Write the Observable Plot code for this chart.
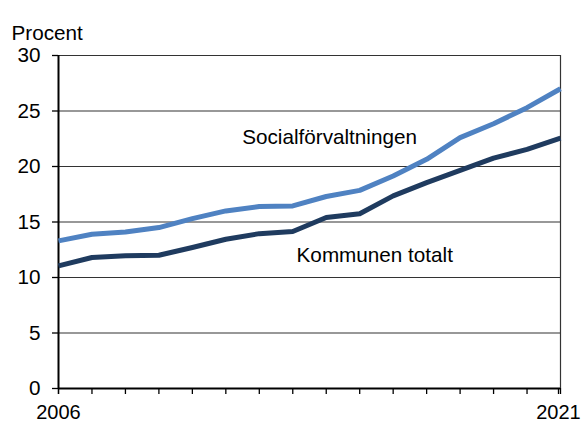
<!DOCTYPE html>
<html><head><meta charset="utf-8">
<script src="https://cdn.jsdelivr.net/npm/d3@7"></script>
<script src="https://cdn.jsdelivr.net/npm/@observablehq/plot@0.6"></script>
<style>body{margin:0;background:#fff}svg{font-family:"Liberation Sans",Arial,sans-serif}</style>
</head><body><div id="chart"></div>
<script>
const years = [2006,2007,2008,2009,2010,2011,2012,2013,2014,2015,2016,2017,2018,2019,2020,2021];
const social = [13.3,13.9,14.1,14.5,15.3,16.0,16.4,16.45,17.3,17.85,19.15,20.65,22.6,23.85,25.3,27.0];
const kommun = [11.05,11.8,11.95,12.0,12.7,13.45,13.95,14.15,15.4,15.75,17.35,18.55,19.65,20.75,21.55,22.55];
const yTicks = [0,5,10,15,20,25,30];
const xLabels = [2006,2021];
const seriesNames = ["Socialförvaltningen","Kommunen totalt"];
const labelX = [2014.1, 2015.45];
const labelY = [22.6, 12.0];

const rows = [];
years.forEach((y,i)=>{rows.push({year:y,v:social[i],s:seriesNames[0]});rows.push({year:y,v:kommun[i],s:seriesNames[1]});});
const labels = seriesNames.map((n,i)=>({name:n,x:labelX[i],y:labelY[i]}));
const FS = 20.7;

const chart = Plot.plot({
  width:582, height:423,
  marginLeft:58, marginRight:22, marginTop:55, marginBottom:35,
  style:{fontFamily:"Liberation Sans, Arial, sans-serif", fontSize:FS+"px", color:"#000", background:"#fff"},
  x:{domain:[2006,2021]},
  y:{domain:[0,30]},
  color:{domain:seriesNames, range:["#4f82c2","#1f3b5f"]},
  marks:[
    Plot.ruleY(yTicks.filter(d=>d>0),{stroke:"#333",strokeWidth:1.2,strokeOpacity:1}),
    Plot.ruleX([2021],{stroke:"#333",strokeWidth:1.2}),
    Plot.axisY({ticks:yTicks, tickSize:6, tickPadding:12, label:null, fontSize:FS, stroke:"#000", strokeWidth:1.3}),
    Plot.axisX({ticks:years, tickSize:6, label:null, strokeWidth:1.3, tickFormat:()=>""}),
    Plot.axisX({ticks:xLabels.slice(0,1), tickSize:6, tickPadding:10, label:null, fontSize:20, strokeWidth:1.3, tickFormat:d=>String(d)}),
    Plot.axisX({ticks:xLabels.slice(1), tickSize:6, tickPadding:10, label:null, fontSize:20, strokeWidth:1.3, dx:-2, tickFormat:d=>String(d)}),
    Plot.ruleX([2006],{stroke:"#000",strokeWidth:2}),
    Plot.ruleY([0],{stroke:"#000",strokeWidth:2}),
    Plot.line(rows,{x:"year",y:"v",z:"s",stroke:"s",strokeWidth:5,strokeLinejoin:"round",strokeLinecap:"butt"}),
    Plot.text(labels,{x:"x",y:"y",text:"name",fontSize:FS,fill:"#000"}),
    Plot.text(["Procent"],{frameAnchor:"top-left",dx:-47,dy:-30,textAnchor:"start",fontSize:FS,fill:"#000"})
  ]
});
document.getElementById("chart").appendChild(chart);
</script></body></html>
